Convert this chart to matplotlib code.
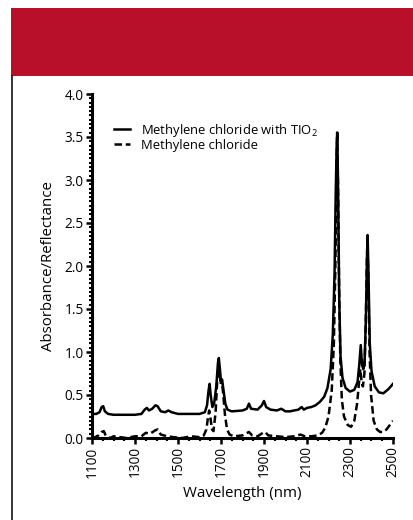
import matplotlib
matplotlib.use("Agg")
import matplotlib.pyplot as plt
from matplotlib.patches import Rectangle
from matplotlib.lines import Line2D
from matplotlib.ticker import MultipleLocator

# ---- data ----
wl_tio2 = [1100, 1120, 1135, 1145, 1152, 1160, 1175, 1200, 1250, 1300, 1330, 1345, 1355, 1365,
           1380, 1395, 1405, 1420, 1440, 1455, 1470, 1500, 1550, 1600, 1625, 1635, 1642, 1647,
           1652, 1660, 1668, 1678, 1686, 1690, 1695, 1700, 1705, 1712, 1720, 1730, 1750, 1800,
           1820, 1830, 1840, 1870, 1890, 1900, 1910, 1930, 1960, 1980, 2000, 2020, 2060, 2075,
           2085, 2100, 2120, 2140, 2160, 2180, 2195, 2210, 2220, 2228, 2234, 2238, 2241, 2245,
           2250, 2256, 2265, 2280, 2300, 2320, 2335, 2343, 2350, 2356, 2362, 2368, 2374, 2379,
           2382, 2386, 2392, 2400, 2415, 2435, 2455, 2475, 2490, 2500]
abs_tio2 = [0.28, 0.28, 0.30, 0.36, 0.37, 0.31, 0.28, 0.27, 0.27, 0.27, 0.28, 0.33, 0.35, 0.32,
            0.34, 0.38, 0.37, 0.31, 0.30, 0.32, 0.30, 0.28, 0.28, 0.28, 0.30, 0.38, 0.55, 0.63,
            0.50, 0.36, 0.40, 0.60, 0.88, 0.93, 0.80, 0.65, 0.68, 0.55, 0.40, 0.33, 0.31, 0.32,
            0.34, 0.40, 0.34, 0.33, 0.38, 0.43, 0.36, 0.33, 0.32, 0.34, 0.31, 0.31, 0.33, 0.36,
            0.33, 0.35, 0.36, 0.38, 0.42, 0.48, 0.58, 0.80, 1.20, 1.90, 2.90, 3.40, 3.55, 2.80,
            1.60, 0.95, 0.70, 0.58, 0.54, 0.56, 0.65, 0.85, 1.08, 0.85, 0.80, 0.90, 1.40, 2.10,
            2.36, 1.90, 1.10, 0.78, 0.60, 0.53, 0.52, 0.56, 0.60, 0.63]

wl_mc = [1100, 1115, 1130, 1145, 1155, 1165, 1185, 1200, 1230, 1260, 1300, 1330, 1350, 1370,
         1395, 1405, 1420, 1450, 1480, 1520, 1560, 1600, 1620, 1632, 1640, 1645, 1650, 1658,
         1665, 1675, 1683, 1688, 1693, 1698, 1703, 1710, 1718, 1728, 1740, 1760, 1800, 1830,
         1845, 1870, 1895, 1905, 1920, 1960, 2000, 2040, 2070, 2090, 2120, 2150, 2170, 2185,
         2200, 2215, 2225, 2232, 2237, 2240, 2244, 2249, 2255, 2262, 2272, 2290, 2305, 2320,
         2333, 2342, 2348, 2354, 2360, 2367, 2373, 2378, 2381, 2385, 2391, 2398, 2410, 2425,
         2440, 2455, 2470, 2485, 2500]
abs_mc = [0.00, 0.01, 0.03, 0.07, 0.08, 0.02, 0.00, 0.02, 0.01, 0.00, 0.02, 0.02, 0.06, 0.05,
          0.09, 0.10, 0.04, 0.02, 0.01, 0.00, 0.02, 0.01, 0.03, 0.10, 0.25, 0.32, 0.25, 0.10,
          0.08, 0.30, 0.70, 0.85, 0.80, 0.62, 0.68, 0.52, 0.28, 0.10, 0.04, 0.02, 0.03, 0.07,
          0.03, 0.02, 0.06, 0.07, 0.03, 0.02, 0.01, 0.02, 0.04, 0.02, 0.02, 0.03, 0.06, 0.12,
          0.25, 0.55, 1.10, 2.00, 3.00, 3.55, 3.00, 1.80, 0.90, 0.45, 0.25, 0.15, 0.13, 0.20,
          0.40, 0.65, 0.80, 0.65, 0.60, 0.75, 1.30, 2.00, 2.30, 1.90, 1.00, 0.50, 0.20, 0.10,
          0.07, 0.07, 0.10, 0.15, 0.20]

series_labels = ["Methylene chloride with TIO$_2$", "Methylene chloride"]
x_ticks = [1100, 1300, 1500, 1700, 1900, 2100, 2300, 2500]
y_ticks = [0.0, 0.5, 1.0, 1.5, 2.0, 2.5, 3.0, 3.5, 4.0]
x_label = "Wavelength (nm)"
y_label = "Absorbance/Reflectance"

# ---- figure ----
W, H = 414, 520
plt.rcParams['font.family'] = ['Open Sans', 'DejaVu Sans']
plt.rcParams['mathtext.fontset'] = 'custom'
plt.rcParams['mathtext.rm'] = 'Open Sans'
fig = plt.figure(figsize=(W / 100, H / 100), dpi=100)
fig.patch.set_facecolor('white')

# red header band and left frame line
fig.patches.append(Rectangle((11 / W, 1 - 76 / H), 1 - 11 / W, 68 / H,
                             transform=fig.transFigure, facecolor='#B8102A',
                             edgecolor='none', zorder=0))
fig.lines.append(Line2D([12 / W, 12 / W], [0, 1 - 76 / H], transform=fig.transFigure,
                        color='black', lw=1.1))

ax = fig.add_axes([92 / W, 1 - 438 / H, (393 - 92) / W, (438 - 94) / H])
ax.plot(wl_tio2, abs_tio2, color='black', lw=1.8, solid_joinstyle='round',
        label=series_labels[0])
ax.plot(wl_mc, abs_mc, color='black', lw=1.8, dashes=(3, 1.5),
        label=series_labels[1])

ax.set_xlim(1100, 2500)
ax.set_ylim(0, 4.0)
ax.set_xticks(x_ticks)
ax.set_xticklabels([str(v) for v in x_ticks], rotation=90, fontsize=9.8)
ax.set_yticks(y_ticks)
ax.set_yticklabels([f"{v:.1f}" for v in y_ticks], fontsize=9.8)
ax.xaxis.set_minor_locator(MultipleLocator(50))
ax.yaxis.set_minor_locator(MultipleLocator(0.05))
ax.tick_params(which='major', direction='out', length=4, width=1.8, pad=2)
ax.tick_params(which='minor', direction='out', length=2.2, width=1.5)
for s in ['top', 'right']:
    ax.spines[s].set_visible(False)
for s in ['left', 'bottom']:
    ax.spines[s].set_linewidth(2.2)

ax.set_xlabel(x_label, fontsize=10.8, labelpad=6)
ax.set_ylabel(y_label, fontsize=10.8, labelpad=6)

ax.legend(loc='upper left', bbox_to_anchor=(114 / W, 1 - 122 / H),
          bbox_transform=fig.transFigure, frameon=False, fontsize=9.4,
          handlelength=1.2, handletextpad=0.9, labelspacing=0.0,
          borderaxespad=0, borderpad=0)

fig.savefig('out.png', dpi=100)
